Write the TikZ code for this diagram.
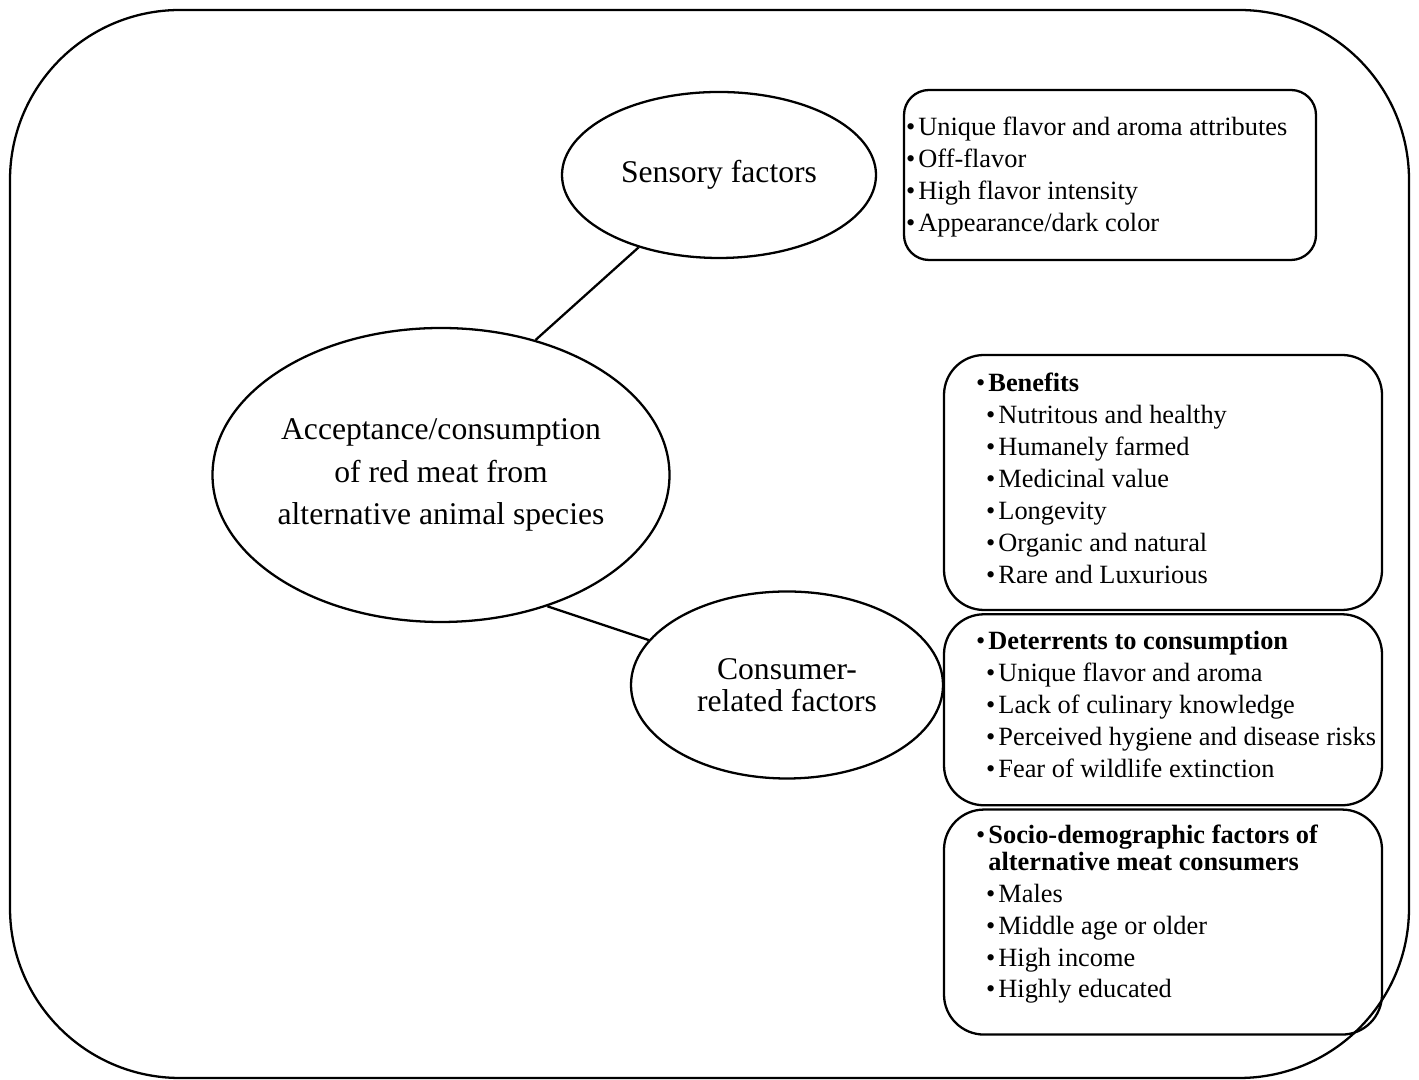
\documentclass[tikz,border=0pt]{standalone}
\usepackage{fontspec}
\setmainfont{Liberation Serif}
\usetikzlibrary{positioning}
\usetikzlibrary{shapes}
\newcommand{\bul}{•\kern1.7pt}

\begin{document}
\begin{tikzpicture}[
  bubble/.style={draw, ellipse, line width=1.3pt, inner sep=0pt, align=center},
  listbox/.style={draw, rounded corners=0.8cm, line width=1.3pt, minimum width=8.76cm},
  listtext/.style={align=left, inner sep=0pt, font=\fontsize{15}{18.2}\selectfont}
]
%frame
\useasboundingbox (0,0) rectangle (28.38,21.6);
\draw[line width=1.3pt, rounded corners=3.4cm] (0.2,0.04) rectangle (28.18,21.4);
%ellipses
\node[bubble, inner xsep=-0.15cm, minimum width=9.14cm, minimum height=5.88cm, font=\fontsize{18}{24.2}\selectfont] (accept) at (8.82,12.1) {Acceptance/consumption\\of red meat from\\alternative animal species};
\node[bubble, minimum width=6.28cm, minimum height=3.32cm, font=\fontsize{18}{21}\selectfont] (sensory) at (14.38,18.1) {Sensory factors};
\node[bubble, minimum width=6.24cm, minimum height=3.74cm, font=\fontsize{18}{18.2}\selectfont] (consumer) at (15.74,7.9) {Consumer-\\related factors};
%links
\draw[line width=1.3pt] (sensory.-138) -- (accept.55);
\draw[line width=1.3pt] (accept.-51) -- (consumer.162);
%sensory list
\node[listbox, rounded corners=0.5cm, minimum width=8.24cm, minimum height=3.4cm] (senbox) at (22.2,18.1) {};
\node[listtext, right=0.06cm of senbox.west, yshift=-0.04cm] (sentext) {%
\bul Unique flavor and aroma attributes\\
\bul Off-flavor\\
\bul High flavor intensity\\
\bul Appearance/dark color};
%consumer lists
\node[listbox, minimum height=5.1cm] (benbox) at (23.26,11.95) {};
\node[listbox, minimum height=3.82cm, below=0.04cm of benbox] (detbox) {};
\node[listbox, minimum height=4.5cm, below=0.04cm of detbox] (socbox) {};
\node[listtext, right=0.66cm of benbox.west, yshift=0.08cm] (bentext) {%
\bul\textbf{Benefits}\\
\hspace*{0.2cm}\bul Nutritous and healthy\\
\hspace*{0.2cm}\bul Humanely farmed\\
\hspace*{0.2cm}\bul Medicinal value\\
\hspace*{0.2cm}\bul Longevity\\
\hspace*{0.2cm}\bul Organic and natural\\
\hspace*{0.2cm}\bul Rare and Luxurious};
\node[listtext, right=0.66cm of detbox.west, yshift=0.1cm] (dettext) {%
\bul\textbf{Deterrents to consumption}\\
\hspace*{0.2cm}\bul Unique flavor and aroma\\
\hspace*{0.2cm}\bul Lack of culinary knowledge\\
\hspace*{0.2cm}\bul Perceived hygiene and disease risks\\
\hspace*{0.2cm}\bul Fear of wildlife extinction};
\node[listtext, right=0.66cm of socbox.west, yshift=0.16cm] (soctext) {%
\bul\textbf{Socio-demographic factors of}\\[-2.8pt]
\phantom{\bul}\textbf{alternative meat consumers}\\
\hspace*{0.2cm}\bul Males\\
\hspace*{0.2cm}\bul Middle age or older\\
\hspace*{0.2cm}\bul High income\\
\hspace*{0.2cm}\bul Highly educated};
\end{tikzpicture}
\end{document}
